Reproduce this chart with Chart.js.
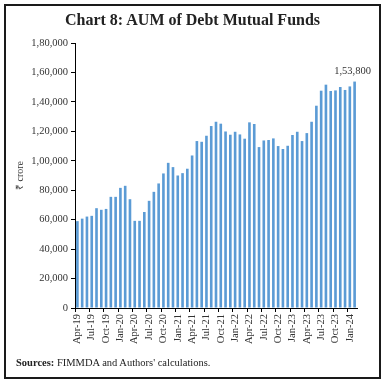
<!DOCTYPE html>
<html>
<head>
<meta charset="utf-8">
<script src="https://cdn.jsdelivr.net/npm/chart.js@4/dist/chart.umd.min.js"></script>
<style>
    body { margin: 0; background: #fff; }
    #wrap { position: relative; width: 385px; height: 385px; overflow: hidden; }
    #frame { position: absolute; left: 4px; top: 4px; width: 373px; height: 371px; border: 2px solid #1a1a1a; }
    #titulo { position: absolute; left: 0; top: 11px; width: 385px; text-align: center;
        font: bold 16px "Liberation Serif", serif; color: #222; }
    #fuente { position: absolute; left: 16px; top: 357px; font: 10.5px "Liberation Serif", serif; color: #222; }
    canvas { position: absolute; left: 0; top: 0; }
</style>
</head>
<body>
<div id="wrap">
    <canvas id="graficoAUM" width="385" height="385"></canvas>
    <div id="frame"></div>
    <div id="titulo">Chart 8: AUM of Debt Mutual Funds</div>
    <div id="fuente"><b>Sources:</b> FIMMDA and Authors' calculations.</div>
</div>
<script>
// meses (abr-2019 a feb-2024)
const meses = [
    'Apr-19', 'May-19', 'Jun-19', 'Jul-19', 'Aug-19', 'Sep-19', 'Oct-19', 'Nov-19', 'Dec-19',
    'Jan-20', 'Feb-20', 'Mar-20', 'Apr-20', 'May-20', 'Jun-20', 'Jul-20', 'Aug-20', 'Sep-20', 'Oct-20', 'Nov-20', 'Dec-20',
    'Jan-21', 'Feb-21', 'Mar-21', 'Apr-21', 'May-21', 'Jun-21', 'Jul-21', 'Aug-21', 'Sep-21', 'Oct-21', 'Nov-21', 'Dec-21',
    'Jan-22', 'Feb-22', 'Mar-22', 'Apr-22', 'May-22', 'Jun-22', 'Jul-22', 'Aug-22', 'Sep-22', 'Oct-22', 'Nov-22', 'Dec-22',
    'Jan-23', 'Feb-23', 'Mar-23', 'Apr-23', 'May-23', 'Jun-23', 'Jul-23', 'Aug-23', 'Sep-23', 'Oct-23', 'Nov-23', 'Dec-23',
    'Jan-24', 'Feb-24'
];

// AUM en ₹ crore
const aum = [
    59000, 60700, 62100, 62600, 67800, 66700, 67300, 75500, 75500,
    81600, 83000, 73900, 59200, 59200, 65200, 72800, 78900, 84600, 91400, 98600, 95700,
    90000, 91600, 94600, 103600, 113400, 112900, 117000, 123600, 126500, 125200, 119900, 117700,
    119700, 117900, 115000, 126100, 125000, 109300, 113800, 114100, 115200, 110000, 108000, 110200,
    117500, 119700, 113400, 118800, 126500, 137400, 147600, 151700, 147400, 147800, 150100, 148100,
    150500, 153800
];

const yMax = 180000;
const yPaso = 20000;
const cadaCuantos = 3; // etiqueta cada 3 meses

// formato indio: 1,80,000
function formatoINR(v) {
    const s = String(Math.round(v));
    if (s.length <= 3) return s;
    const ult = s.slice(-3);
    const resto = s.slice(0, -3).replace(/\B(?=(\d{2})+(?!\d))/g, ',');
    return resto + ',' + ult;
}

// etiqueta del último valor
const etiquetaFinal = {
    id: 'etiquetaFinal',
    afterDatasetsDraw(chart) {
        const meta = chart.getDatasetMeta(0);
        const bar = meta.data[meta.data.length - 1];
        const ctx = chart.ctx;
        ctx.save();
        ctx.font = '10.5px "Liberation Serif", serif';
        ctx.fillStyle = '#333';
        ctx.textAlign = 'center';
        ctx.textBaseline = 'bottom';
        ctx.fillText(formatoINR(aum[aum.length - 1]), bar.x - 2, bar.y - 5);
        ctx.restore();
    }
};

const fuenteEjes = { family: '"Liberation Serif", serif', size: 10.5 };

new Chart(document.getElementById('graficoAUM').getContext('2d'), {
    type: 'bar',
    data: {
        labels: meses,
        datasets: [{
            data: aum,
            backgroundColor: '#5B9BD5',
            barPercentage: 0.55,
            categoryPercentage: 1
        }]
    },
    options: {
        responsive: false,
        animation: false,
        layout: { padding: { top: 43, right: 28, bottom: 0, left: 0 } },
        plugins: {
            legend: { display: false },
            tooltip: { enabled: false }
        },
        scales: {
            x: {
                grid: {
                    offset: true,
                    drawOnChartArea: false,
                    tickLength: 4,
                    tickColor: (c) => (c.index % cadaCuantos === 0 ? '#000' : 'rgba(0,0,0,0)')
                },
                border: { color: '#000', width: 1 },
                ticks: {
                    autoSkip: false,
                    maxRotation: 90,
                    minRotation: 90,
                    padding: 2,
                    color: '#333',
                    font: fuenteEjes,
                    callback: (v, i) => (i % cadaCuantos === 0 ? meses[i] : '')
                },
                afterFit: (s) => { s.height = 77; }
            },
            y: {
                min: 0,
                max: yMax,
                grid: { drawOnChartArea: false, tickLength: 4, color: '#000' },
                border: { color: '#000', width: 1 },
                ticks: {
                    stepSize: yPaso,
                    padding: 3,
                    color: '#333',
                    font: fuenteEjes,
                    callback: (v) => formatoINR(v)
                },
                title: {
                    display: true,
                    text: '₹ crore',
                    color: '#333',
                    font: { family: '"Liberation Serif", serif', size: 10 },
                    padding: { top: 14, bottom: 0 }
                },
                afterFit: (s) => { s.width = 75; }
            }
        }
    },
    plugins: [etiquetaFinal]
});
</script>
</body>
</html>
